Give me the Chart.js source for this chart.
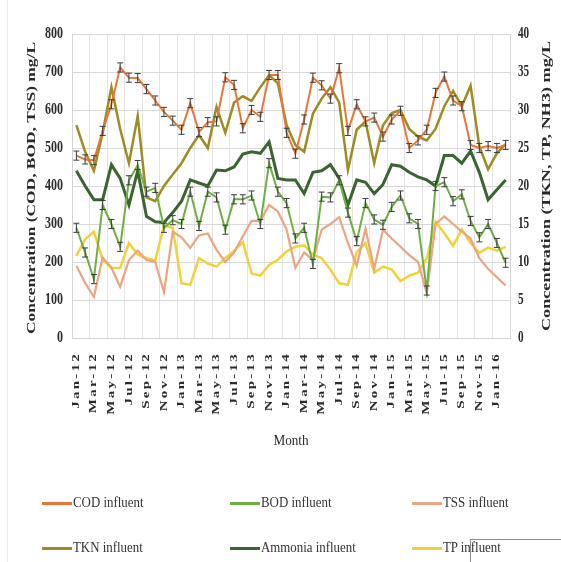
<!doctype html>
<html lang="en">
<head>
  <meta charset="utf-8">
  <title>influent</title>
  <style>
    body { margin: 0; background: #fff; }
    #wrap { position: relative; width: 561px; height: 562px; overflow: hidden; }
    #chart { position: absolute; left: 0; top: 0; }
    .edge { position: absolute; left: 7px; top: 0; width: 1px; height: 562px; background: #ececec; }
    .box { position: absolute; left: 470px; top: 539px; width: 95px; height: 30px;
           border-top: 1px solid #8a8a8a; border-left: 1px solid #8a8a8a; }
    .leg { position: absolute; height: 20px; display: flex; align-items: center;
           font-family: "Liberation Serif", serif; font-size: 14px; color: #333; white-space: nowrap; }
    .leg i { display: inline-block; width: 30px; height: 3px; margin-right: 1px; }
    .leg span { display: inline-block; transform: scaleX(0.92); transform-origin: left center; }
  </style>
</head>
<body>
<div id="wrap">
  <div class="edge"></div>
  <canvas id="chart" width="561" height="562"></canvas>
  <div class="box"></div>
</div>

<script src="https://cdn.jsdelivr.net/npm/chart.js@4/dist/chart.umd.min.js"></script>
<script>
  // months Jan-12 .. Feb-16
  const months = ['Jan-12','Feb-12','Mar-12','Apr-12','May-12','Jun-12','Jul-12','Aug-12','Sep-12','Oct-12','Nov-12','Dec-12',
    'Jan-13','Feb-13','Mar-13','Apr-13','May-13','Jun-13','Jul-13','Aug-13','Sep-13','Oct-13','Nov-13','Dec-13',
    'Jan-14','Feb-14','Mar-14','Apr-14','May-14','Jun-14','Jul-14','Aug-14','Sep-14','Oct-14','Nov-14','Dec-14',
    'Jan-15','Feb-15','Mar-15','Apr-15','May-15','Jun-15','Jul-15','Aug-15','Sep-15','Oct-15','Nov-15','Dec-15',
    'Jan-16','Feb-16'];

  // left axis, mg/L
  const cod = [480,470,468,545,615,712,685,684,655,625, 595,572,548,618,542,568,570,686,666,552,
               600,582,692,692,540,485,575,685,665,630, 710,545,615,570,580,530,575,598,500,520,
               548,645,688,625,610,508,500,505,500,508];
  const bod = [290,225,155,350,300,240,415,455,385,395, 290,310,300,385,295,385,370,285,365,365,
               375,300,460,385,355,262,290,195,372,370, 415,330,255,355,312,298,345,375,315,300,
               125,400,410,360,378,308,265,300,250,198];
  const tss = [190,145,108,212,185,135,205,230,205,200, 120,280,265,237,270,275,232,200,225,268,
               308,308,350,333,285,185,225,205,285,300, 318,250,190,288,182,285,262,240,218,200,
               118,300,320,300,280,262,210,182,160,138];

  // right axis, mg/L
  const tkn = [28,24.5,22,27,33,27.5,23,29.2,18.5,18, 20,21.5,23,25,26.7,25,30.4,27,31,31.8,
               31.2,33,34.6,33.5,28,25.4,24.5,29.5,31.5,33, 31,22.1,27.4,28.5,23,28,29.6,30,27.5,26.5,
               26,27.5,30.5,32.5,30.5,33.2,25.2,22.2,24.3,25.5];
  const ammonia = [22,20,18.2,18.2,22.8,21,17.5,22,16,15.3, 15.2,16.5,18,20.8,20.4,20,22.1,22,22.5,24.2,
               24.5,24.3,25.8,21,20.8,20.8,19,21.8,22,22.8, 21,17.5,20.8,20.5,19,20.2,22.8,22.6,21.8,21.2,
               20.8,20,24,24,23,24.6,21.8,18.2,19.5,20.8];
  const tp = [10.8,13,14,10.3,9.2,9.2,12.5,11,10.5,10.2, 14.8,14.5,7.2,7,10.5,9.8,9.4,10.5,11.5,12.6,
              8.5,8.2,9.6,10.3,11.4,12,12.2,11,10.5,9, 7.2,7,11.3,12.5,8.6,9.4,9,7.5,8.2,8.6,
              10.5,15.3,13.8,12.1,14.3,12.5,11.2,11.9,11.5,12];

  const leftTicks = [0,100,200,300,400,500,600,700,800];
  const rightTicks = [0,5,10,15,20,25,30,35,40];
  const leftTitle = 'Concentration (COD, BOD, TSS) mg/L';
  const rightTitle = 'Concentration (TKN, TP, NH3) mg/L';
  const xTitle = 'Month';

  const serif = '"Liberation Serif", "Times New Roman", serif';

  const errorBars = {
    id: 'errorBars',
    afterDatasetsDraw(chart) {
      const ctx = chart.ctx;
      chart.data.datasets.forEach((ds, di) => {
        if (!ds.err) return;
        const meta = chart.getDatasetMeta(di);
        const sc = chart.scales[ds.yAxisID];
        ctx.save();
        ctx.strokeStyle = '#3c3c3c';
        ctx.lineWidth = 1;
        meta.data.forEach((pt, i) => {
          const v = ds.data[i];
          const t = sc.getPixelForValue(v + ds.err);
          const b = sc.getPixelForValue(v - ds.err);
          ctx.beginPath();
          ctx.moveTo(pt.x, t); ctx.lineTo(pt.x, b);
          ctx.moveTo(pt.x - 3, t); ctx.lineTo(pt.x + 3, t);
          ctx.moveTo(pt.x - 3, b); ctx.lineTo(pt.x + 3, b);
          ctx.stroke();
        });
        ctx.restore();
      });
    }
  };

  function stretchedText(ctx, text, cx, cy, len, font) {
    ctx.save();
    ctx.font = font;
    const w = ctx.measureText(text).width;
    ctx.translate(cx, cy);
    ctx.rotate(-Math.PI / 2);
    ctx.scale(len / w, 1);
    ctx.textAlign = 'center';
    ctx.textBaseline = 'middle';
    ctx.fillText(text, 0, 0);
    ctx.restore();
  }

  const axisText = {
    id: 'axisText',
    afterDraw(chart) {
      const ctx = chart.ctx;
      const xs = chart.scales.x, ys = chart.scales.y, y1 = chart.scales.y1;
      ctx.save();
      ctx.fillStyle = '#2a2a2a';
      ctx.textBaseline = 'middle';

      ctx.font = 'bold 16px ' + serif;
      leftTicks.forEach(v => {
        ctx.save();
        ctx.translate(63, ys.getPixelForValue(v));
        ctx.scale(0.75, 1);
        ctx.textAlign = 'right';
        ctx.fillText(String(v), 0, 0);
        ctx.restore();
      });
      rightTicks.forEach(v => {
        ctx.save();
        ctx.translate(518, y1.getPixelForValue(v));
        ctx.scale(0.7, 1);
        ctx.textAlign = 'left';
        ctx.fillText(String(v), 0, 0);
        ctx.restore();
      });

      ctx.font = 'bold 10px ' + serif;
      months.forEach((m, i) => {
        if (i % 2) return;
        ctx.save();
        ctx.translate(xs.getPixelForValue(i), 352);
        ctx.rotate(-Math.PI / 2);
        ctx.scale(1.5, 1);
        ctx.letterSpacing = '1.5px';
        ctx.textAlign = 'right';
        ctx.fillText(m, 0, 0);
        ctx.restore();
      });

      stretchedText(ctx, leftTitle, 32, 188, 292, 'bold 13px ' + serif);
      stretchedText(ctx, rightTitle, 547, 186, 290, 'bold 13px ' + serif);

      ctx.save();
      ctx.font = '15px ' + serif;
      ctx.translate((xs.left + xs.right) / 2, 441);
      ctx.scale(0.88, 1);
      ctx.textAlign = 'center';
      ctx.fillText(xTitle, 0, 0);
      ctx.restore();

      ctx.restore();
    }
  };

  const datasets = [
    { label: 'COD influent', data: cod, yAxisID: 'y', borderColor: '#E8763A', borderWidth: 2, err: 12 },
    { label: 'BOD influent', data: bod, yAxisID: 'y', borderColor: '#70AD47', borderWidth: 2, err: 12 },
    { label: 'TSS influent', data: tss, yAxisID: 'y', borderColor: '#EBA582', borderWidth: 2.2 },
    { label: 'TKN influent', data: tkn, yAxisID: 'y1', borderColor: '#9E8B24', borderWidth: 2.5 },
    { label: 'Ammonia influent', data: ammonia, yAxisID: 'y1', borderColor: '#3A6530', borderWidth: 3 },
    { label: 'TP influent', data: tp, yAxisID: 'y1', borderColor: '#F2D23A', borderWidth: 2.5 }
  ];
  datasets.forEach(d => { d.pointRadius = 0; d.tension = 0; d.fill = false; });

  new Chart(document.getElementById('chart').getContext('2d'), {
    type: 'line',
    data: { labels: months, datasets: datasets },
    options: {
      responsive: false,
      animation: false,
      layout: { padding: { top: 34, left: 0, right: 0, bottom: 0 } },
      plugins: { legend: { display: false }, tooltip: { enabled: false } },
      scales: {
        x: {
          offset: true,
          grid: { offset: true, drawTicks: false, color: c => (c.index % 2 === 0 ? '#e3e3e3' : 'rgba(0,0,0,0)') },
          border: { color: '#d4d4d4' },
          ticks: { display: false },
          afterFit: s => { s.height = 224; }
        },
        y: {
          position: 'left', min: 0, max: 800,
          ticks: { stepSize: 100, display: false },
          grid: { drawTicks: false, color: '#d9d9d9' },
          border: { color: '#d4d4d4' },
          afterFit: s => { s.width = 72; }
        },
        y1: {
          position: 'right', min: 0, max: 40,
          ticks: { stepSize: 5, display: false },
          grid: { display: false },
          border: { color: '#d4d4d4' },
          afterFit: s => { s.width = 51; }
        }
      }
    },
    plugins: [errorBars, axisText]
  });

  // legend, 3 columns x 2 rows
  const legCols = [42, 230, 412];
  const legRows = [493, 538];
  const wrap = document.getElementById('wrap');
  datasets.forEach((d, i) => {
    const el = document.createElement('div');
    el.className = 'leg';
    el.style.left = legCols[i % 3] + 'px';
    el.style.top = legRows[Math.floor(i / 3)] + 'px';
    el.innerHTML = '<i style="background:' + d.borderColor + '"></i><span>' + d.label + '</span>';
    wrap.insertBefore(el, wrap.querySelector('.box'));
  });
</script>
</body>
</html>
